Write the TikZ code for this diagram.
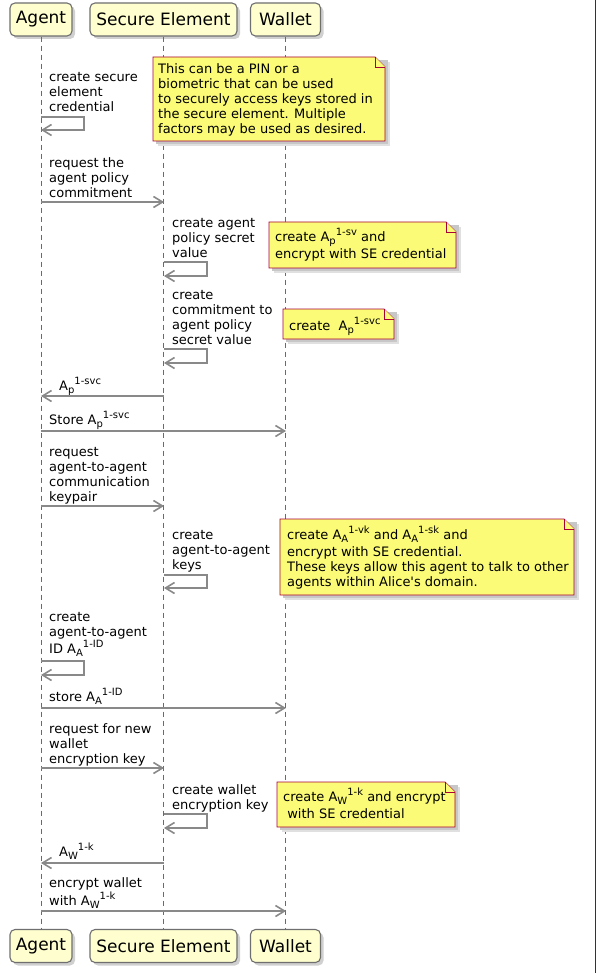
\documentclass[tikz,border=0pt]{standalone}
\usepackage{fontspec}
\setmainfont{DejaVu Sans}
\usetikzlibrary{arrows.meta,shadows}
\definecolor{pfill}{HTML}{FEFECE}
\definecolor{pline}{HTML}{6F6F6F}
\definecolor{nfill}{HTML}{FBFB77}
\definecolor{nline}{HTML}{A80036}
\definecolor{aline}{HTML}{898989}
\definecolor{lline}{HTML}{6A6A6A}
\newcommand\psub[1]{\raisebox{-3pt}{\fontsize{10}{10}\selectfont #1}}
\newcommand\psup[1]{\raisebox{6pt}{\fontsize{10}{10}\selectfont #1}}
\newcommand\msgtext[3]{\foreach \yy/\ltxt [count=\i] in {#3} {\node[txt] (#1-\i) at (#2,\yy) {\ltxt};}}
\newcommand\selfloop[4]{\coordinate (#1s) at (#2,#3); \coordinate (#1e) at (#2,#4);
  \draw[msg] (#1s) -- ++(43,0) |- (#1e);}
\newcommand\hmsg[4]{\coordinate (#1s) at (#2,#4); \coordinate (#1e) at (#3,#4);
  \draw[msg] (#1s) -- (#1e);}
\newcommand\notebox[5]{%
  \fill[black!12] (#2+5,#3+5) -- (#4+5,#3+5) -- (#4+5,#5+5) -- (#2+5,#5+5) -- cycle;
  \fill[black!22] (#2+3,#3+3) -- (#4+3,#3+3) -- (#4+3,#5+3) -- (#2+3,#5+3) -- cycle;
  \filldraw[notestyle] (#2,#3) -- (#4-10,#3) -- (#4,#3+10) -- (#4,#5) -- (#2,#5) -- cycle;
  \draw[notestyle] (#4-10,#3) -- (#4-10,#3+10) -- (#4,#3+10);
  \coordinate (#1) at (#2,#3);}
\begin{document}
\begin{tikzpicture}[x=1pt,y=-1pt,
  pbox/.style={draw=pline, line width=1.1pt, fill=pfill, rounded corners=5pt,
    minimum height=33pt, inner sep=0pt, font=\fontsize{17}{20}\selectfont,
    drop shadow={shadow xshift=3pt, shadow yshift=-3pt, fill=black!30, opacity=0.6}},
  txt/.style={inner sep=0pt, anchor=base west, font=\fontsize{13}{15}\selectfont},
  msg/.style={draw=aline, line width=1.6pt, -{Straight Barb[length=9pt,width=11pt]}},
  life/.style={draw=lline, line width=0.8pt, dash pattern=on 5pt off 4pt},
  notestyle/.style={fill=nfill, draw=nline, line width=0.9pt, line join=miter}]
\useasboundingbox (0,0) rectangle (596,973);
\fill[white] (0,0) rectangle (596,973);
% participants
\node[pbox, minimum width=62pt] (pAt) at (41,19.5) {Agent};
\node[pbox, minimum width=147pt] (pSt) at (163.5,19.5) {Secure Element};
\node[pbox, minimum width=70pt] (pWt) at (285.5,19.5) {Wallet};
\node[pbox, minimum width=62pt] (pAb) at (41,946) {Agent};
\node[pbox, minimum width=147pt] (pSb) at (163.5,946) {Secure Element};
\node[pbox, minimum width=70pt] (pWb) at (285.5,946) {Wallet};
\draw[life] (pAt) -- (pAb);
\draw[life] (pSt) -- (pSb);
\draw[life] (pWt) -- (pWb);
% right border
\draw[black!80, line width=1pt] (595.5,0) -- (595.5,973);
% M1
\msgtext{t1}{49}{82/create secure,97/element,112/credential}
\selfloop{m1}{41}{117}{130}
% N1
\notebox{n1}{153}{57}{385}{141}
\msgtext{n1t}{158}{74/This can be a PIN or a,89/biometric that can be used,104/to securely access keys stored in,119/the secure element. Multiple,134/factors may be used as desired.}
% M2
\msgtext{t2}{49}{168/request the,183/agent policy,198/commitment}
\hmsg{m2}{41}{164}{202}
% M3
\msgtext{t3}{172}{228/create agent,243/policy secret,258/value}
\selfloop{m3}{164}{262}{276}
\notebox{n2}{269}{222}{456}{268}
\msgtext{n2t}{275}{242/{create A\psub{p}\psup{1-sv} and},259/encrypt with SE credential}
% M4
\msgtext{t4}{172}{299/create,314/commitment to,329/agent policy,344/secret value}
\selfloop{m4}{164}{349}{363}
\notebox{n3}{283}{309}{394}{339}
\msgtext{n3t}{289}{330/{create\ \ A\psub{p}\psup{1-svc}}}
% M5
\msgtext{t5}{59}{390/{A\psub{p}\psup{1-svc}}}
\hmsg{m5}{164}{41}{396}
% M6
\msgtext{t6}{49}{424.5/{Store A\psub{p}\psup{1-svc}}}
\hmsg{m6}{41}{286}{431}
% M7
\msgtext{t7}{49}{456/request,471/agent-to-agent,486/communication,501/keypair}
\hmsg{m7}{41}{164}{506}
% M8
\msgtext{t8}{172}{539.5/create,554.5/agent-to-agent,569.5/keys}
\selfloop{m8}{164}{575}{588}
\notebox{n4}{280}{519}{574}{595}
\msgtext{n4t}{287}{539/{create A\psub{A}\psup{1-vk} and A\psub{A}\psup{1-sk} and},556/encrypt with SE credential.,571.5/These keys allow this agent to talk to other,586.5/{agents within Alice\textquotesingle s domain.}}
% M9
\msgtext{t9}{49}{621/create,636/agent-to-agent,653/{ID A\psub{A}\psup{1-ID}}}
\selfloop{m9}{41}{661}{675}
% M10
\msgtext{t10}{49}{701/{store A\psub{A}\psup{1-ID}}}
\hmsg{m10}{41}{286}{708}
% M11
\msgtext{t11}{49}{733/request for new,748/wallet,763.5/encryption key}
\hmsg{m11}{41}{164}{768}
% M12
\msgtext{t12}{172}{794/create wallet,809.5/encryption key}
\selfloop{m12}{164}{814}{828}
\notebox{n5}{277}{782}{455}{827}
\msgtext{n5t}{283}{801/{create A\psub{W}\psup{1-k} and encrypt},818.5/{\ with SE credential}}
% M13
\msgtext{t13}{59}{856/{A\psub{W}\psup{1-k}}}
\hmsg{m13}{164}{41}{863}
% M14
\msgtext{t14}{49}{887/encrypt wallet,905/{with A\psub{W}\psup{1-k}}}
\hmsg{m14}{41}{286}{911}
\end{tikzpicture}
\end{document}
